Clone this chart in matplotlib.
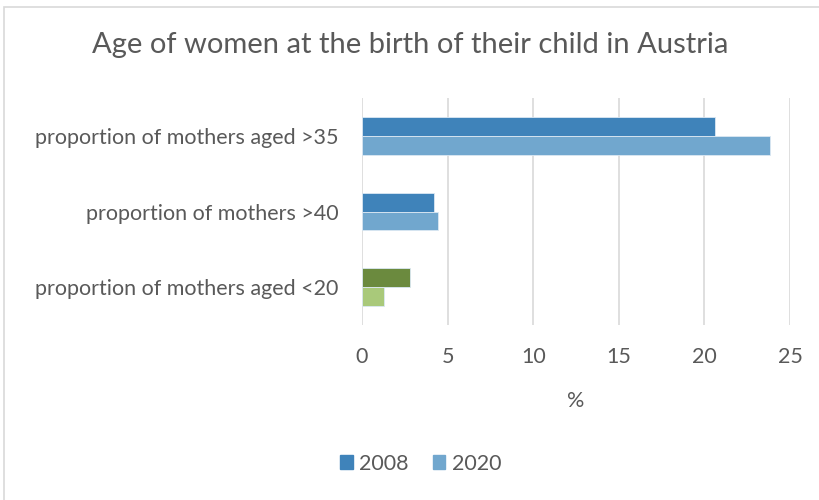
import matplotlib
matplotlib.use("Agg")
import matplotlib.pyplot as plt
from matplotlib.patches import Rectangle, Patch

# Daten
categories = ["proportion of mothers aged >35", "proportion of mothers >40", "proportion of mothers aged <20"]
values_2008 = [20.6, 4.2, 2.8]
values_2020 = [23.8, 4.45, 1.3]
colors_2008 = ["#3f83ba", "#3f83ba", "#6b8a3e"]
colors_2020 = ["#71a7ce", "#71a7ce", "#a9c97a"]
x_ticks = [0, 5, 10, 15, 20, 25]

TEXT = "#595959"
FS = 15.5
plt.rcParams["font.family"] = ["Lato", "DejaVu Sans"]

fig = plt.figure(figsize=(8.2, 5.0), dpi=100)
ax = fig.add_axes([0.4415, 0.35, 0.522, 0.454])

pos = list(range(len(categories)))
h = 0.25
ax.barh([p - h / 2 for p in pos], values_2008, height=h, color=colors_2008,
        edgecolor="#dbe8f3", linewidth=0.6, zorder=3)
ax.barh([p + h / 2 for p in pos], values_2020, height=h, color=colors_2020,
        edgecolor="#dbe8f3", linewidth=0.6, zorder=3)

ax.set_ylim(len(categories) - 0.5, -0.5)
ax.set_xlim(0, 25)
ax.set_xticks(x_ticks)
ax.set_xticklabels([str(t) for t in x_ticks], fontsize=FS, color=TEXT)
ax.set_yticks(pos)
ax.set_yticklabels(categories, fontsize=FS, color=TEXT)
ax.tick_params(axis="y", length=0, pad=17)
ax.tick_params(axis="x", length=0, pad=16)
ax.grid(axis="x", color="#d9d9d9", linewidth=1.2, zorder=0)
for s in ax.spines.values():
    s.set_visible(False)
ax.set_xlabel("%", fontsize=FS, color=TEXT, labelpad=17)

fig.suptitle("Age of women at the birth of their child in Austria", fontsize=21,
             color=TEXT, y=0.935)

handles = [Patch(color="#3f83ba", label="2008"), Patch(color="#71a7ce", label="2020")]
fig.legend(handles=handles, loc="center", bbox_to_anchor=(0.513, 0.073), ncol=2,
           frameon=False, fontsize=FS, handlelength=0.6, handleheight=0.6,
           handletextpad=0.3, columnspacing=1.1, labelcolor=TEXT)

fig.patches.append(Rectangle((0.005, -0.1), 1.2, 1.086, transform=fig.transFigure,
                             fill=False, edgecolor="#d9d9d9", linewidth=1.2))

fig.savefig("out.png", dpi=100)
